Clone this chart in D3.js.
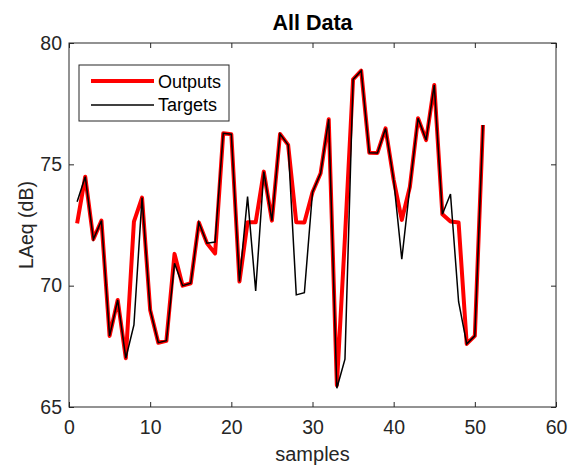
<!DOCTYPE html>
<html><head><meta charset="utf-8">
<script src="https://cdn.jsdelivr.net/npm/d3@7"></script>
<style>body{margin:0;background:#fff;} svg{display:block;font-family:"Liberation Sans",Arial,sans-serif;}</style>
</head><body><div id="chart"></div>
<script>
const samples = d3.range(1, 52);
const outputs = [72.57,74.49,71.91,72.68,67.93,69.41,67.01,72.64,73.63,69.0,
  67.65,67.73,71.31,70.0,70.1,72.6,71.75,71.33,76.28,76.24,
  70.17,72.61,72.61,74.70,72.68,76.25,75.80,72.61,72.6,73.85,
  74.63,76.86,65.9,72.0,78.5,78.86,75.48,75.47,76.48,74.36,
  72.71,74.08,76.9,76.0,78.27,72.94,72.64,72.6,67.6,67.93,76.62];
const targets = [73.46,74.49,71.91,72.68,67.93,69.41,67.01,68.38,73.63,69.0,
  67.65,67.73,70.92,70.0,70.1,72.6,71.75,71.8,76.28,76.24,
  70.17,73.67,69.78,74.70,72.68,76.25,75.80,69.62,69.71,73.85,
  74.63,76.86,65.77,66.97,78.5,78.86,75.48,75.47,76.48,74.36,
  71.09,74.08,76.9,76.0,78.27,72.94,73.78,69.34,67.6,67.93,76.62];
const xTicks = [0,10,20,30,40,50,60];
const yTicks = [65,70,75,80];
const seriesNames = ["Outputs","Targets"];

const W = 571, H = 466;
const m = {left:69, right:W-556, top:43, bottom:H-407};
const svg = d3.select("#chart").append("svg").attr("width",W).attr("height",H);
const x = d3.scaleLinear().domain([0,60]).range([m.left, W-m.right]);
const y = d3.scaleLinear().domain([65,80]).range([H-m.bottom, m.top]);

svg.append("rect").attr("x",0).attr("y",0).attr("width",W).attr("height",H).attr("fill","#fff");

const line = d3.line().x((d,i)=>x(samples[i])).y(d=>y(d));
svg.append("path").datum(outputs).attr("d",line).attr("fill","none")
  .attr("stroke","#ff0000").attr("stroke-width",4).attr("stroke-linejoin","round");
svg.append("path").datum(targets).attr("d",line).attr("fill","none")
  .attr("stroke","#000").attr("stroke-width",1.5).attr("stroke-linejoin","miter");

const tl = 5;
const gx = svg.append("g").attr("transform",`translate(0,${H-m.bottom})`)
  .call(d3.axisBottom(x).tickValues(xTicks).tickSize(-tl).tickPadding(10));
const gxt = svg.append("g").attr("transform",`translate(0,${m.top})`)
  .call(d3.axisTop(x).tickValues(xTicks).tickSize(-tl).tickFormat(""));
const gy = svg.append("g").attr("transform",`translate(${m.left},0)`)
  .call(d3.axisLeft(y).tickValues(yTicks).tickSize(-tl).tickPadding(7));
const gyr = svg.append("g").attr("transform",`translate(${W-m.right},0)`)
  .call(d3.axisRight(y).tickValues(yTicks).tickSize(-tl).tickFormat(""));
[gx,gxt,gy,gyr].forEach(g=>{
  g.select(".domain").remove();
  g.selectAll("line").attr("stroke","#262626").attr("stroke-width",1);
  g.selectAll("text").attr("font-size",19.5).attr("fill","#262626")
   .attr("font-family","'Liberation Sans',Arial,sans-serif");
});
gx.selectAll("text").attr("dy",null).attr("y",null).attr("transform",null)
  .attr("y",434-(H-m.bottom));
svg.append("rect").attr("x",m.left).attr("y",m.top)
  .attr("width",W-m.right-m.left).attr("height",H-m.bottom-m.top)
  .attr("fill","none").attr("stroke","#262626").attr("stroke-width",1);

svg.append("text").attr("x",(m.left+W-m.right)/2).attr("y",30).attr("text-anchor","middle")
  .attr("font-size",21.5).attr("font-weight","bold").text("All Data");
svg.append("text").attr("x",(m.left+W-m.right)/2).attr("y",461).attr("text-anchor","middle")
  .attr("font-size",20).attr("fill","#262626").text("samples");
svg.append("text").attr("transform",`translate(33,${(m.top+H-m.bottom)/2}) rotate(-90)`)
  .attr("text-anchor","middle").attr("font-size",19.5).attr("fill","#262626").text("LAeq (dB)");

const lg = svg.append("g");
lg.append("rect").attr("x",79).attr("y",65).attr("width",150).attr("height",56)
  .attr("fill","#fff").attr("stroke","#262626").attr("stroke-width",1);
lg.append("line").attr("x1",91).attr("x2",154).attr("y1",81).attr("y2",81)
  .attr("stroke","#ff0000").attr("stroke-width",4);
lg.append("line").attr("x1",91).attr("x2",154).attr("y1",105).attr("y2",105)
  .attr("stroke","#000").attr("stroke-width",1.5);
lg.append("text").attr("x",158).attr("y",88).attr("font-size",18).text(seriesNames[0]);
lg.append("text").attr("x",158).attr("y",111).attr("font-size",18).text(seriesNames[1]);
</script></body></html>
